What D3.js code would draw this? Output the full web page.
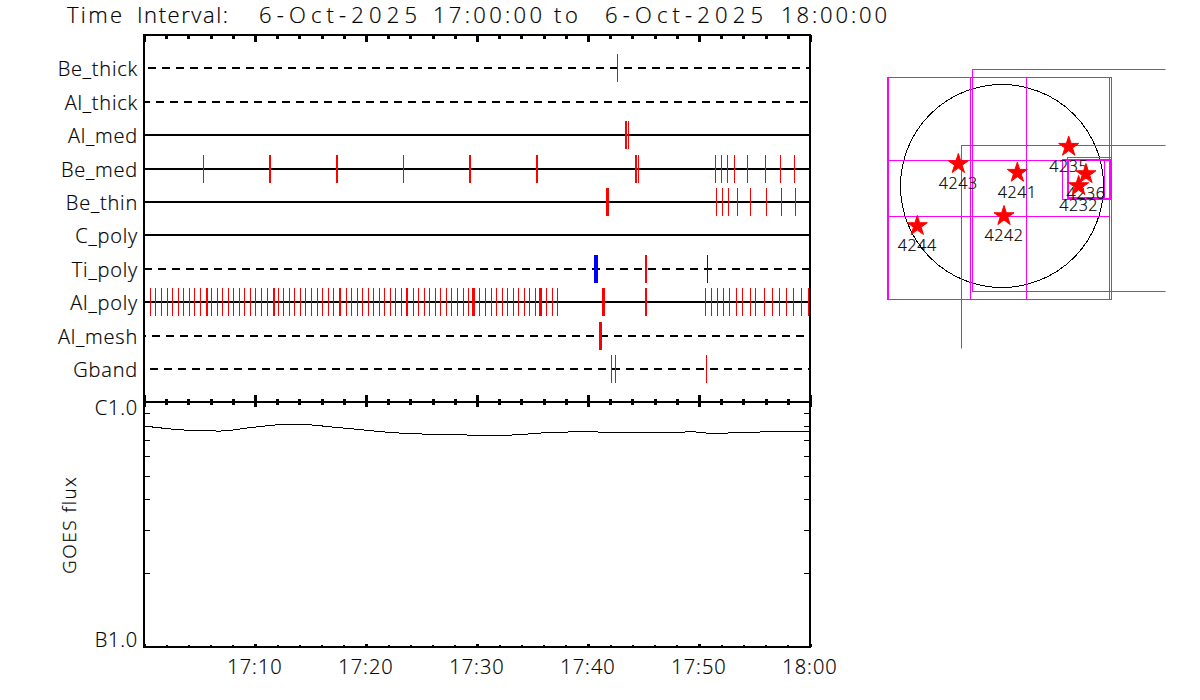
<!DOCTYPE html>
<html>
<head>
<meta charset="utf-8">
<script src="https://cdnjs.cloudflare.com/ajax/libs/d3/7.8.5/d3.min.js"></script>
<style>
  html, body { margin: 0; background: #fff; }
  svg { display: block; }
  text { font-family: "Open Sans", "DejaVu Sans", sans-serif; font-weight: 300; fill: #000; stroke: #000; stroke-width: 0.2; white-space: pre; }
  .axis path.domain { display: none; }
</style>
</head>
<body>
<svg id="chart" width="1200" height="700"></svg>
<script>
var titleParts = ["Time", "Interval:", "6-Oct-2025", "17:00:00", "to", "6-Oct-2025", "18:00:00"];

// minutes after 17:00
var rows = ["Be_thick", "Al_thick", "Al_med", "Be_med", "Be_thin", "C_poly", "Ti_poly", "Al_poly", "Al_mesh", "Gband"];
var dashedRows = ["Be_thick", "Al_thick", "Ti_poly", "Al_mesh", "Gband"];

var beThick = [42.66];
var alThick = [];
var alMed = [43.38, 43.47, 43.65];
var beMed = [5.36, 11.31, 11.40, 17.34, 17.43, 23.38, 29.32, 29.41, 35.36, 35.45, 44.28, 44.37, 44.55,
  51.49, 52.03, 52.57, 53.20, 54.37, 55.99, 57.34, 58.60, 59.95];
var beThin = [41.67, 41.76, 41.85, 51.58, 52.12, 52.66, 53.47, 54.64, 56.08, 57.43, 58.69, 60];
var cPoly = [];
var tiPolyRed = [45.18, 45.27];
var tiPolyBlue = [40.59, 40.68, 40.77, 40.86, 50.77];
var alPoly = [0.05, 0.59, 1.04, 1.58, 2.12, 2.57, 3.11, 3.56, 4.10, 4.55, 5.09, 5.63, 5.72, 6.08, 6.62, 7.07, 7.61,
  8.06, 8.60, 9.05, 9.59, 10.05, 10.59, 11.13, 11.67, 11.76, 12.12, 12.57, 13.11, 13.56, 14.10, 14.55, 15.09,
  15.63, 16.08, 16.62, 17.07, 17.61, 17.70, 18.24, 18.69, 19.23, 19.68, 20.23, 20.68, 21.22, 21.67, 22.21, 22.66,
  23.20, 23.65, 23.74, 24.28, 24.73, 25.27, 25.72, 26.26, 26.71, 27.25, 27.70, 28.24, 28.78, 29.23, 29.59, 29.68,
  29.77, 30.23, 30.77, 31.31, 31.76, 32.30, 32.75, 33.29, 33.74, 34.28, 34.73, 35.27, 35.63, 35.72, 35.81, 36.26,
  36.80, 37.25, 41.31, 41.40, 41.49, 45.18, 45.27, 50.59, 51.13, 51.67, 52.21, 52.75, 53.38, 53.92, 54.64, 55.09,
  55.90, 56.62, 57.25, 57.88, 58.51, 59.23, 59.86];
var alMesh = [41.04, 41.13, 41.22];
var gband = [42.12, 42.48, 50.68];

var majorTicks = [0, 10, 20, 30, 40, 50, 60];
var minorTicks = [2, 4, 6, 8, 12, 14, 16, 18, 22, 24, 26, 28, 32, 34, 36, 38, 42, 44, 46, 48, 52, 54, 56, 58];
var timeLabels = ["17:10", "17:20", "17:30", "17:40", "17:50", "18:00"];

// GOES flux, W/m2
var goesMinutes = [0, 3.5, 6.8, 9.8, 13.4, 17.7, 23, 29.4, 33, 35.7, 37.5, 39.7, 40.6, 41.1, 48.6, 49, 49.5, 49.8,
  51.6, 52.5, 52.8, 55.5, 55.7, 60];
var goesFlux = [7.98e-7, 7.69e-7, 7.61e-7, 7.88e-7, 8.13e-7, 7.85e-7, 7.47e-7, 7.33e-7, 7.33e-7, 7.47e-7, 7.52e-7,
  7.58e-7, 7.58e-7, 7.52e-7, 7.52e-7, 7.61e-7, 7.61e-7, 7.52e-7, 7.45e-7, 7.45e-7, 7.54e-7, 7.54e-7, 7.61e-7, 7.61e-7];
var fluxTicks = [2e-7, 3e-7, 4e-7, 5e-7, 6e-7, 7e-7, 8e-7, 9e-7];
var fluxLabels = ["B1.0", "C1.0"];
var fluxLabelValues = [1e-7, 1e-6];

// sun map, arcsec from disk centre
var arNames = ["4243", "4241", "4235", "4236", "4232", "4242", "4244"];
var arX = [-413, 145, 631, 794, 725, 19, -801];
var arY = [208, 126, 372, 113, 0, -284, -378];
var fovX0 = [-1084, -1075, -1084, -296, -281, -385, 570, 618, 627, 625];
var fovX1 = [1016, 1034, 1016, 234, 2000, 2000, 967, 1037, 967, 1025];
var fovY0 = [1030, 1030, 243, 1030, 1104, 381, 246, 271, 246, 250];
var fovY1 = [-1078, -1078, -287, -1078, -996, -2000, -132, -123, -113, -120];
var solarRadius = 960;

var eventsByRow = {
  "Be_thick": beThick, "Al_thick": alThick, "Al_med": alMed, "Be_med": beMed, "Be_thin": beThin,
  "C_poly": cPoly, "Ti_poly": tiPolyRed, "Al_poly": alPoly, "Al_mesh": alMesh, "Gband": gband
};
var dashStart = { "Be_thick": 10, "Al_thick": 2, "Ti_poly": 0, "Al_mesh": 6, "Gband": 8 };

var svg = d3.select("#chart");

var plotLeft = 144, plotRight = 810, plotTop = 35, plotMid = 402, plotBottom = 647;
var x = d3.scaleLinear().domain([0, 60]).range([plotLeft, plotRight]);
var rowY = d3.scalePoint().domain(rows).range([68.2, 369.2]);
var fluxY = d3.scaleLog().domain([1e-7, 1e-6]).range([plotBottom, plotMid]);
var mapX = d3.scaleLinear().domain([-solarRadius, solarRadius]).range([900.5, 1103.5]);
var mapY = d3.scaleLinear().domain([-solarRadius, solarRadius]).range([287.5, 84.5]);

function label(sel, txt, px, py, size, anchor, spacing) {
  return sel.append("text")
    .attr("x", px)
    .attr("y", py)
    .attr("font-size", size)
    .attr("text-anchor", anchor)
    .attr("letter-spacing", spacing)
    .text(txt);
}

function pixel(v) {
  return Math.floor(v) + 0.5;
}

// title, vector font is wider so each word gets its own slot
var titleStart = [67, 137, 259, 433, 554, 605, 781];
var titleWidth = [55, 91, 158, 109, 24, 158, 106];
titleParts.forEach(function(t, i) {
  label(svg, t, titleStart[i], 23, 22, "start", 0)
    .attr("textLength", titleWidth[i])
    .attr("lengthAdjust", "spacing");
});

// row base lines
var lineGroup = svg.append("g").attr("shape-rendering", "crispEdges");
rows.forEach(function(r) {
  var line = lineGroup.append("line")
    .attr("x1", x(0))
    .attr("x2", x(60))
    .attr("y1", Math.round(rowY(r)))
    .attr("y2", Math.round(rowY(r)))
    .attr("stroke", "#000")
    .attr("stroke-width", 2);
  if (dashedRows.indexOf(r) >= 0) {
    line.attr("stroke-dasharray", "8 6").attr("stroke-dashoffset", dashStart[r]);
  }
  label(svg, r, 138, Math.round(rowY(r)) + 8, 20, "end", 0.8);
});

// observation marks, one pixel each
function drawMarks(row, times, color) {
  lineGroup.selectAll(null)
    .data(times)
    .enter()
    .append("line")
    .attr("x1", function(d) { return pixel(x(d)); })
    .attr("x2", function(d) { return pixel(x(d)); })
    .attr("y1", Math.round(rowY(row)) - 14)
    .attr("y2", Math.round(rowY(row)) + 14)
    .attr("stroke", color)
    .attr("stroke-width", 1);
}
rows.forEach(function(r) {
  drawMarks(r, eventsByRow[r], "#ff0000");
});
drawMarks("Ti_poly", tiPolyBlue, "#0000ff");

// goes curve
var goesLine = d3.line()
  .curve(d3.curveMonotoneX)
  .x(function(d, i) { return x(goesMinutes[i]); })
  .y(function(d) { return fluxY(d); });
svg.append("path")
  .attr("d", goesLine(goesFlux))
  .attr("fill", "none")
  .attr("stroke", "#000")
  .attr("stroke-width", 1)
  .attr("shape-rendering", "crispEdges");

// frames
var frame = svg.append("g").attr("shape-rendering", "crispEdges").attr("stroke", "#000").attr("stroke-width", 2);
[plotTop, plotMid, plotBottom].forEach(function(yy) {
  frame.append("line").attr("x1", plotLeft - 1).attr("x2", plotRight + 1).attr("y1", yy).attr("y2", yy);
});
[plotLeft, plotRight].forEach(function(xx) {
  frame.append("line").attr("x1", xx).attr("x2", xx).attr("y1", plotTop).attr("y2", plotBottom);
});

// time axes
function timeAxis(yPos, makeAxis, ticks, size, width) {
  var g = svg.append("g")
    .attr("class", "axis")
    .attr("transform", "translate(0," + yPos + ")")
    .attr("shape-rendering", "crispEdges")
    .call(makeAxis(x).tickValues(ticks).tickSize(size).tickFormat(""));
  g.selectAll("line").attr("stroke", "#000").attr("stroke-width", width);
  g.selectAll("text").remove();
}
timeAxis(plotTop, d3.axisBottom, minorTicks, 4, 3);
timeAxis(plotTop, d3.axisBottom, majorTicks, 7, 3);
timeAxis(plotMid - 3, d3.axisBottom, minorTicks, 6, 3);
timeAxis(plotMid - 7, d3.axisBottom, majorTicks, 12, 3);
timeAxis(plotBottom, d3.axisTop, minorTicks, 2, 2);
timeAxis(plotBottom, d3.axisTop, majorTicks, 3, 3);

timeLabels.forEach(function(t, i) {
  label(svg, t, x(majorTicks[i + 1]), 674, 20, "middle", 1);
});

// flux axes
function fluxAxis(xPos, makeAxis) {
  var g = svg.append("g")
    .attr("class", "axis")
    .attr("transform", "translate(" + xPos + ",0)")
    .attr("shape-rendering", "crispEdges")
    .call(makeAxis(fluxY).tickValues(fluxTicks).tickSize(6).tickFormat(""));
  g.selectAll("line").attr("stroke", "#000").attr("stroke-width", 1);
  g.selectAll("text").remove();
}
fluxAxis(plotLeft, d3.axisRight);
fluxAxis(plotRight, d3.axisLeft);

fluxLabels.forEach(function(t, i) {
  label(svg, t, 138, fluxY(fluxLabelValues[i]) + (i === 1 ? 13 : 0), 20, "end", 0.8);
});
label(svg, "GOES flux", 0, 0, 19, "middle", 1.5)
  .attr("transform", "translate(76,525) rotate(-90)");

// sun map
svg.append("clipPath")
  .attr("id", "mapClip")
  .append("rect")
  .attr("x", 880)
  .attr("y", 60)
  .attr("width", 285.5)
  .attr("height", 288.5);

var map = svg.append("g").attr("clip-path", "url(#mapClip)").attr("shape-rendering", "crispEdges");
map.append("circle")
  .attr("cx", mapX(0))
  .attr("cy", mapY(0))
  .attr("r", mapX(solarRadius) - mapX(0))
  .attr("fill", "none")
  .attr("stroke", "#000")
  .attr("stroke-width", 1);

map.selectAll("rect.fov")
  .data(d3.range(fovX0.length))
  .enter()
  .append("rect")
  .attr("class", "fov")
  .attr("x", function(i) { return pixel(mapX(fovX0[i])); })
  .attr("y", function(i) { return pixel(mapY(fovY0[i])); })
  .attr("width", function(i) { return pixel(mapX(fovX1[i])) - pixel(mapX(fovX0[i])); })
  .attr("height", function(i) { return pixel(mapY(fovY1[i])) - pixel(mapY(fovY0[i])); })
  .attr("fill", "none")
  .attr("stroke", "#ff00ff")
  .attr("stroke-width", 1);

var star = d3.symbol().type(d3.symbolStar).size(125);
arNames.forEach(function(name, i) {
  svg.append("path")
    .attr("d", star())
    .attr("transform", "translate(" + mapX(arX[i]) + "," + mapY(arY[i]) + ")")
    .attr("fill", "#ff0000")
    .attr("stroke", "#ff0000")
    .attr("stroke-width", 1);
  label(svg, name, mapX(arX[i]), mapY(arY[i]) + 25, 16, "middle", 0.6);
});
</script>
</body>
</html>
